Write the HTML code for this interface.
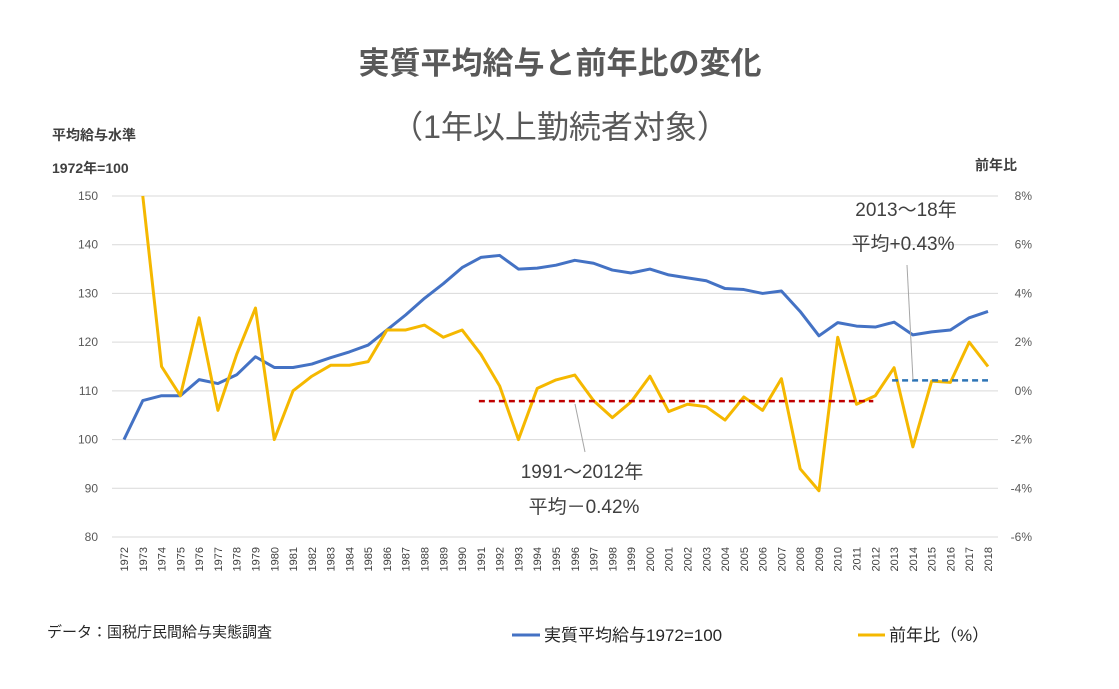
<!DOCTYPE html>
<html><head><meta charset="utf-8">
<style>
body{margin:0;background:#fff;font-family:"Liberation Sans","Noto Sans CJK JP",sans-serif;}
svg text{font-family:"Liberation Sans","Noto Sans CJK JP",sans-serif;}
</style></head>
<body>
<svg id="chart" width="1119" height="684">
<text x="560" y="74" text-anchor="middle" font-size="31" font-weight="bold" fill="#595959">実質平均給与と前年比の変化</text>
<text x="560" y="138" text-anchor="middle" font-size="32" fill="#595959">（1年以上勤続者対象）</text>
<text x="52" y="140" font-size="14" font-weight="bold" fill="#404040">平均給与水準</text>
<text x="52" y="173" font-size="14" font-weight="bold" fill="#404040">1972年=100</text>
<text x="975" y="170" font-size="14" font-weight="bold" fill="#404040">前年比</text>
<g id="grid"></g><g id="xt"></g><g id="marks"></g>
<line x1="575" y1="404" x2="585" y2="452" stroke="#a6a6a6"/>
<line x1="907" y1="265" x2="913" y2="380" stroke="#a6a6a6"/>
<text x="582" y="478" text-anchor="middle" font-size="19" fill="#404040">1991～2012年</text>
<text x="584" y="513" text-anchor="middle" font-size="19" fill="#404040">平均－0.42%</text>
<text x="906" y="216" text-anchor="middle" font-size="19" fill="#404040">2013～18年</text>
<text x="903" y="250" text-anchor="middle" font-size="19" fill="#404040">平均+0.43%</text>
<text x="47" y="637" font-size="15" fill="#262626">データ：国税庁民間給与実態調査</text>
<line x1="512" y1="635" x2="540" y2="635" stroke="#4472c4" stroke-width="3"/>
<text x="544" y="641" font-size="17" fill="#262626">実質平均給与1972=100</text>
<line x1="858" y1="635" x2="885" y2="635" stroke="#f5b800" stroke-width="3"/>
<text x="889" y="641" font-size="17" fill="#262626">前年比（%）</text>
</svg>
<script>
const years=[];for(let y=1972;y<=2018;y++)years.push(y);
const salary=[100,108,109,109,112.3,111.5,113.3,117,114.8,114.8,115.5,116.8,118,119.4,122.5,125.6,129,132,135.3,137.4,137.8,135,135.2,135.8,136.8,136.2,134.8,134.2,135,133.8,133.2,132.6,131,130.8,130,130.5,126.3,121.3,124,123.3,123.1,124.1,121.5,122.1,122.5,125,126.3];
const yoy=[null,8,1.0,-0.2,3.0,-0.8,1.5,3.4,-2.0,0,0.6,1.05,1.05,1.2,2.5,2.5,2.7,2.2,2.5,1.5,0.2,-2.0,0.1,0.45,0.65,-0.4,-1.1,-0.45,0.6,-0.85,-0.55,-0.65,-1.2,-0.25,-0.8,0.5,-3.2,-4.1,2.2,-0.55,-0.2,0.95,-2.3,0.4,0.35,2.0,1.0];
const leftTicks=[150,140,130,120,110,100,90,80];
const rightTicks=["8%","6%","4%","2%","0%","-2%","-4%","-6%"];
const avgPeriods=[{from:1991,to:2012,v:-0.42,c:"#c00000"},{from:2013,to:2018,v:0.43,c:"#2e75b6"}];
const NS="http://www.w3.org/2000/svg";
const X0=124,X1=988,YT=196,YB=537;
const xs=y=>X0+(y-1972)*(X1-X0)/46;
const yl=v=>YB-(v-80)*(YB-YT)/70;
const yr=v=>YB-(v+6)*(YB-YT)/14;
function mk(tag,attrs,parent){const e=document.createElementNS(NS,tag);for(const k in attrs)e.setAttribute(k,attrs[k]);parent.appendChild(e);return e;}
const grid=document.getElementById('grid'),xt=document.getElementById('xt'),marks=document.getElementById('marks');
leftTicks.forEach((t,i)=>{
 const y=yl(t);
 const l=mk('line',{x1:112,x2:998,y1:y,y2:y,stroke:'#d9d9d9'},grid);
 
 
 const a=mk('text',{x:98,y:y+4,'text-anchor':'end','font-size':12,fill:'#595959'},grid);a.textContent=t;
 
 
 const b=mk('text',{x:1032,y:y+4,'text-anchor':'end','font-size':12,fill:'#595959'},grid);b.textContent=rightTicks[i];
 
 
});
years.forEach(y=>{
 const t=mk('text',{transform:`translate(${xs(y)+4},547) rotate(-90)`,'text-anchor':'end','font-size':11,fill:'#404040'},xt);t.textContent=y;
 
 
});
let d='';salary.forEach((v,i)=>{d+=(i?'L':'M')+xs(years[i])+','+yl(v);});
const p1=mk('path',{d:d,fill:'none',stroke:'#4472c4','stroke-width':3,'stroke-linejoin':'round'},marks);


d='';let s=false;yoy.forEach((v,i)=>{if(v===null)return;d+=(s?'L':'M')+xs(years[i])+','+yr(v);s=true;});
const p2=mk('path',{d:d,fill:'none',stroke:'#f5b800','stroke-width':3,'stroke-linejoin':'round'},marks);


avgPeriods.forEach(a=>{
 const l=mk('line',{x1:xs(a.from)-2,x2:xs(a.to)+(a.to===2018?0:-2),y1:yr(a.v),y2:yr(a.v),stroke:a.c,'stroke-width':2.5,'stroke-dasharray':'6,4'},marks);
 
 
});
</script>
</body></html>
